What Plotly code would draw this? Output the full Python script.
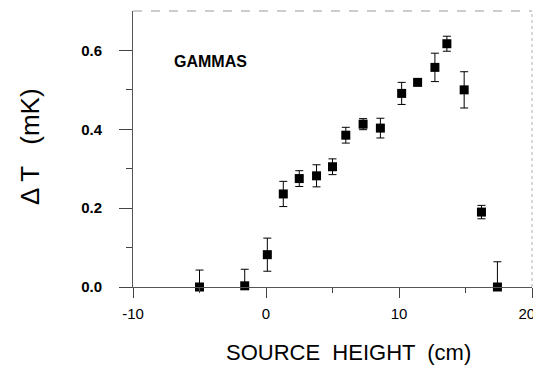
import plotly.graph_objects as go

# Data
source_height = [-5.0, -1.6, 0.1, 1.3, 2.5, 3.8, 5.0, 6.0, 7.3, 8.6, 10.2, 11.4, 12.7, 13.6, 14.9, 16.2, 17.4]
delta_t = [0.0, 0.003, 0.082, 0.236, 0.275, 0.282, 0.305, 0.385, 0.413, 0.403, 0.491, 0.519, 0.557, 0.617, 0.50, 0.19, 0.0]
err_up = [0.043, 0.042, 0.042, 0.032, 0.02, 0.028, 0.02, 0.02, 0.014, 0.025, 0.028, 0.008, 0.036, 0.019, 0.046, 0.017, 0.064]
err_down = [0.0, 0.003, 0.042, 0.032, 0.02, 0.028, 0.02, 0.02, 0.014, 0.025, 0.028, 0.008, 0.036, 0.019, 0.046, 0.017, 0.0]

x_tickvals = [-10, 0, 10, 20]
# trailing spaces on the last label nudge it left so it stays inside the window
x_ticktext = ["-10", "0", "10", "20\u2002\u2009"]
y_tickvals = [0.0, 0.2, 0.4, 0.6]
y_ticktext = ["0.0", "0.2", "0.4", "0.6"]
x_title = "SOURCE  HEIGHT  (cm)"
y_title = "Δ T   (mK)"
label = "GAMMAS"

FONT = "Liberation Sans, Arial, sans-serif"

fig = go.Figure()
fig.add_trace(go.Scatter(
    x=source_height, y=delta_t, mode="markers",
    marker=dict(symbol="square", size=9, color="black"),
    error_y=dict(type="data", symmetric=False, array=err_up, arrayminus=err_down,
                 color="black", thickness=1, width=4),
    cliponaxis=False, showlegend=False,
))

fig.add_annotation(x=-4.2, y=0.572, xref="x", yref="y", text="<b>" + label + "</b>",
                   showarrow=False, font=dict(family=FONT, size=16, color="black"))

# axis titles placed as annotations for exact positioning
fig.add_annotation(x=0.5, y=0, xref="paper", yref="paper", text=x_title,
                   xanchor="center", yanchor="middle", xshift=16, yshift=-65,
                   showarrow=False, font=dict(family=FONT, size=22, color="black"))
fig.add_annotation(x=0, y=0.5, xref="paper", yref="paper", text=y_title, textangle=-90,
                   xanchor="center", yanchor="middle", xshift=-103, yshift=2,
                   showarrow=False, font=dict(family=FONT, size=26, color="black"))

# faint top and right frame
fig.add_shape(type="line", xref="paper", yref="paper", x0=0, x1=1, y0=1, y1=1,
              line=dict(color="#9a9a9a", width=1, dash="dash"))
fig.add_shape(type="line", xref="paper", yref="paper", x0=1, x1=1, y0=0, y1=1,
              line=dict(color="#b0b0b0", width=1, dash="dot"))

fig.update_xaxes(
    range=[-10, 20], tickvals=x_tickvals, ticktext=x_ticktext, ticks="outside", ticklen=10,
    tickwidth=1, tickcolor="#444", showline=True, linecolor="#555", linewidth=1,
    showgrid=False, zeroline=False, automargin=False, ticklabelstandoff=3,
    ticklabeloverflow="allow",
    minor=dict(tickvals=[-5, 5, 15], ticks="outside", ticklen=5, tickcolor="#444"),
    tickfont=dict(family=FONT, size=15, color="black"),
)
fig.update_yaxes(
    range=[0, 0.7], tickvals=y_tickvals, ticktext=y_ticktext, ticks="outside", ticklen=13,
    tickwidth=1, tickcolor="#444", showline=True, linecolor="#555", linewidth=1,
    showgrid=False, zeroline=False, ticklabelstandoff=14, automargin=False,
    minor=dict(tickvals=[0.1, 0.3, 0.5], ticks="outside", ticklen=6, tickcolor="#444"),
    tickfont=dict(family=FONT, size=15, color="black", weight="bold"),
)

# page body has an 8px default margin, so the figure is sized to fit the window
fig.update_layout(
    width=533, height=358,
    margin=dict(l=125, r=9, t=3, b=79),
    paper_bgcolor="white", plot_bgcolor="white",
)

fig.write_html("out.html")
